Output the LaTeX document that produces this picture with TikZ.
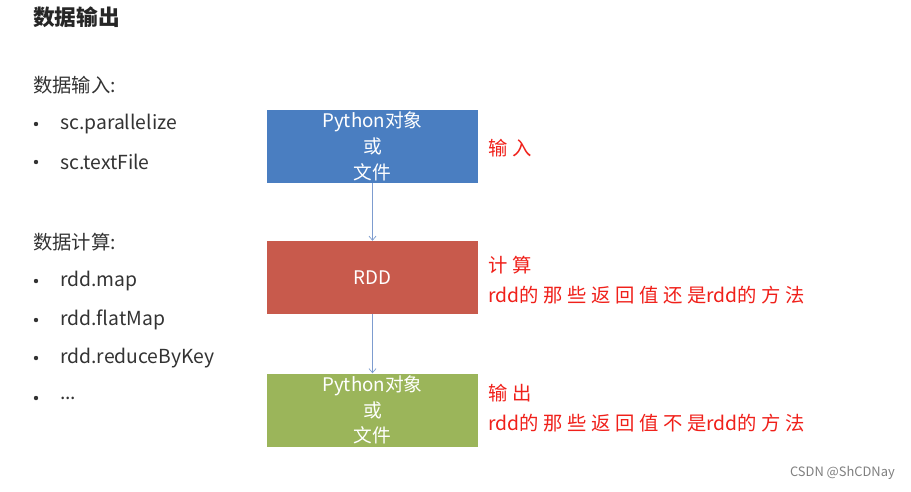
\documentclass[tikz,border=0pt]{standalone}
\usepackage{fontspec}
\setmainfont{Noto Sans CJK SC}
\newfontfamily\cjk{Noto Sans CJK SC}
\usepackage{xcolor}
\definecolor{boxblue}{HTML}{4A7EC1}
\definecolor{boxred}{HTML}{C85A4C}
\definecolor{boxgreen}{HTML}{9BB55A}
\definecolor{arrowblue}{HTML}{7D9CCF}
\definecolor{notered}{HTML}{F0201A}
\definecolor{bodygray}{HTML}{333333}
\usetikzlibrary{arrows.meta,positioning}
\newcommand\gap{\hspace{0.24em}}
\tikzset{
    x=0.03cm,y=-0.03cm,
    stage/.style ={rectangle, minimum width = 6.33cm, minimum height = 2.19cm, inner sep=0pt,
                   text=white, align=center, font=\fontsize{16}{22}\selectfont},
    flow/.style = {-{Straight Barb[length=3.5pt,width=6pt]}, arrowblue, line width=0.6pt},
    txt/.style = {anchor=west, inner sep=0pt, text=bodygray, font=\fontsize{16.5}{18}\selectfont},
    note/.style = {anchor=west, inner sep=0pt, text=notered, align=left,
                   font=\fontsize{16.5}{25}\selectfont}
}

\begin{document}
\begin{tikzpicture}
      \useasboundingbox[fill=white] (0,0) rectangle (911,491);
      % left column
      \node[txt, font=\fontsize{18.5}{20}\selectfont\bfseries, text=black!85] (title) at (33,17) {数据输出};
      \node[txt] (inHead) at (33,85) {数据输入:};
      \node[txt] (inA) at (60,124) {sc.parallelize};
      \node[txt] (inB) at (60,162) {sc.textFile};
      \node[txt] (calcHead) at (33,242) {数据计算:};
      \node[txt] (calcA) at (60,281) {rdd.map};
      \node[txt] (calcB) at (60,320) {rdd.flatMap};
      \node[txt] (calcC) at (60,358) {rdd.reduceByKey};
      \node[txt] (calcD) at (60,398) {...};
      \foreach \y in {124,162,281,320,358,398}
          \fill[bodygray] (36,\y) circle (2.2);

      % flow boxes
      \node[stage, fill=boxblue] (source) at (372.5,146.5) {Python对象\\或\\文件};
      \node[stage, fill=boxred] (rdd) at (372.5,277.5) {RDD};
      \node[stage, fill=boxgreen] (sink) at (372.5,410) {Python对象\\或\\文件};
      \draw[flow] (source) -- (rdd);
      \draw[flow] (rdd) -- (sink.north);

      % notes
      \node[note] (inNote) at (488,148) {输\gap 入};
      \node[note] (calcNote) at (488,280) {计\gap 算\\rdd的\gap 那\gap 些\gap 返\gap 回\gap 值\gap 还\gap 是rdd的\gap 方\gap 法};
      \node[note] (outNote) at (488,408) {输\gap 出\\rdd的\gap 那\gap 些\gap 返\gap 回\gap 值\gap 不\gap 是rdd的\gap 方\gap 法};

      \node[anchor=east, inner sep=0pt, text=gray, font=\fontsize{11}{12}\selectfont] (mark) at (895,473) {CSDN @ShCDNay};
\end{tikzpicture}
\end{document}
